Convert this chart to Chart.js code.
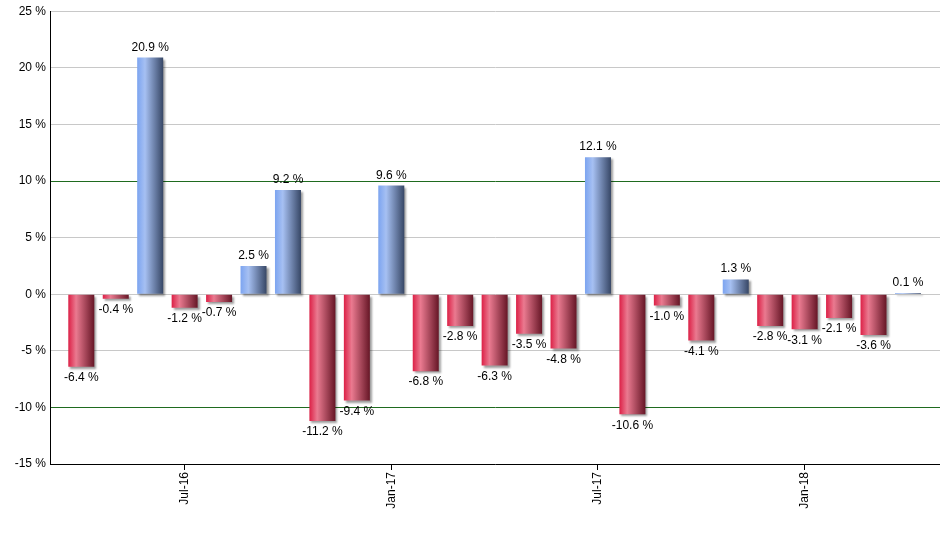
<!DOCTYPE html>
<html>
<head>
<meta charset="utf-8">
<script src="https://cdn.jsdelivr.net/npm/chart.js@4/dist/chart.umd.min.js"></script>
<style>
  html, body { margin: 0; padding: 0; background: #fff; }
  #wrap { width: 940px; height: 550px; }
</style>
</head>
<body>
<div id="wrap"><canvas id="c" width="940" height="550"></canvas></div>
<script>
const categories = ['Apr-16','May-16','Jun-16','Jul-16','Aug-16','Sep-16','Oct-16','Nov-16','Dec-16',
  'Jan-17','Feb-17','Mar-17','Apr-17','May-17','Jun-17','Jul-17','Aug-17','Sep-17','Oct-17','Nov-17',
  'Dec-17','Jan-18','Feb-18','Mar-18','Apr-18'];
const values = [-6.4, -0.4, 20.9, -1.2, -0.7, 2.5, 9.2, -11.2, -9.4, 9.6, -6.8, -2.8, -6.3, -3.5, -4.8,
  12.1, -10.6, -1.0, -4.1, 1.3, -2.8, -3.1, -2.1, -3.6, 0.1];
const tickLabels = ['Jul-16', 'Jan-17', 'Jul-17', 'Jan-18'];
const yTicks = [-15, -10, -5, 0, 5, 10, 15, 20, 25];

const FONT = "'Liberation Sans', Arial, sans-serif";
const BAR_PCT = 0.755;

function barFill(c) {
  const chart = c.chart;
  const v = values[c.dataIndex];
  const pos = v >= 0;
  const fallback = pos ? '#7ea6f2' : '#d8284a';
  if (c.dataIndex === undefined) return fallback;
  const xs = chart.scales.x;
  if (!xs || !chart.chartArea) return fallback;
  const cx = xs.getPixelForValue(c.dataIndex);
  const w = (xs.getPixelForValue(1) - xs.getPixelForValue(0)) * BAR_PCT;
  const g = chart.ctx.createLinearGradient(cx - w / 2, 0, cx + w / 2, 0);
  if (pos) {
    g.addColorStop(0, '#7ca4f0');
    g.addColorStop(0.3, '#a6c0f2');
    g.addColorStop(1, '#374766');
  } else {
    g.addColorStop(0, '#dc2046');
    g.addColorStop(0.3, '#ea7a90');
    g.addColorStop(1, '#661626');
  }
  return g;
}

const shadowPlugin = {
  id: 'barShadow',
  beforeDatasetsDraw(chart) {
    const ctx = chart.ctx;
    ctx.save();
    ctx.shadowColor = 'rgba(0,0,0,0.38)';
    ctx.shadowOffsetX = 2;
    ctx.shadowOffsetY = 2;
    ctx.shadowBlur = 2;
  },
  afterDatasetsDraw(chart) {
    chart.ctx.restore();
  }
};

const labelPlugin = {
  id: 'valueLabels',
  afterDatasetsDraw(chart) {
    const ctx = chart.ctx;
    const meta = chart.getDatasetMeta(0);
    ctx.save();
    ctx.font = '12px ' + FONT;
    ctx.fillStyle = '#000';
    ctx.textAlign = 'center';
    meta.data.forEach((el, i) => {
      const v = values[i];
      const txt = v.toFixed(1) + ' %';
      if (v >= 0) {
        ctx.textBaseline = 'alphabetic';
        ctx.fillText(txt, el.x, el.y - 7);
      } else {
        ctx.textBaseline = 'top';
        ctx.fillText(txt, el.x, el.y + 5);
      }
    });
    ctx.restore();
  }
};

new Chart(document.getElementById('c'), {
  type: 'bar',
  data: {
    datasets: [{
      data: values.map((v, i) => ({ x: i, y: v })),
      backgroundColor: barFill,
      borderWidth: 0,
      barPercentage: BAR_PCT,
      categoryPercentage: 1
    }]
  },
  options: {
    responsive: false,
    animation: false,
    layout: { padding: { top: 10, right: 0, left: 0, bottom: 0 } },
    plugins: { legend: { display: false }, tooltip: { enabled: false } },
    scales: {
      x: {
        type: 'linear',
        offset: false,
        min: -0.909,
        max: 24.93,
        afterBuildTicks(scale) {
          scale.ticks = tickLabels.map(l => ({ value: categories.indexOf(l) }));
        },
        afterFit(scale) { scale.height = 86; },
        ticks: {
          callback: (v) => categories[v] || '',
          minRotation: 90,
          maxRotation: 90,
          autoSkip: false,
          padding: 2,
          color: '#000',
          font: { family: FONT, size: 12 }
        },
        grid: {
          offset: false,
          drawOnChartArea: false,
          drawTicks: true,
          tickLength: 6,
          color: '#000',
          lineWidth: 1
        },
        border: { display: true, color: '#000', width: 1 }
      },
      y: {
        min: -15,
        max: 25,
        afterBuildTicks(scale) {
          scale.ticks = yTicks.map(v => ({ value: v }));
        },
        afterFit(scale) { scale.width = 50; },
        ticks: {
          callback: (v) => v + ' %',
          padding: 4,
          color: '#000',
          font: { family: FONT, size: 12 }
        },
        grid: {
          drawTicks: false,
          color: (c) => (c.tick && Math.abs(c.tick.value) === 10) ? '#1f6b1f' : '#c8c8c8',
          lineWidth: 1
        },
        border: { display: true, color: '#000', width: 1 }
      }
    }
  },
  plugins: [shadowPlugin, labelPlugin]
});
</script>
</body>
</html>
